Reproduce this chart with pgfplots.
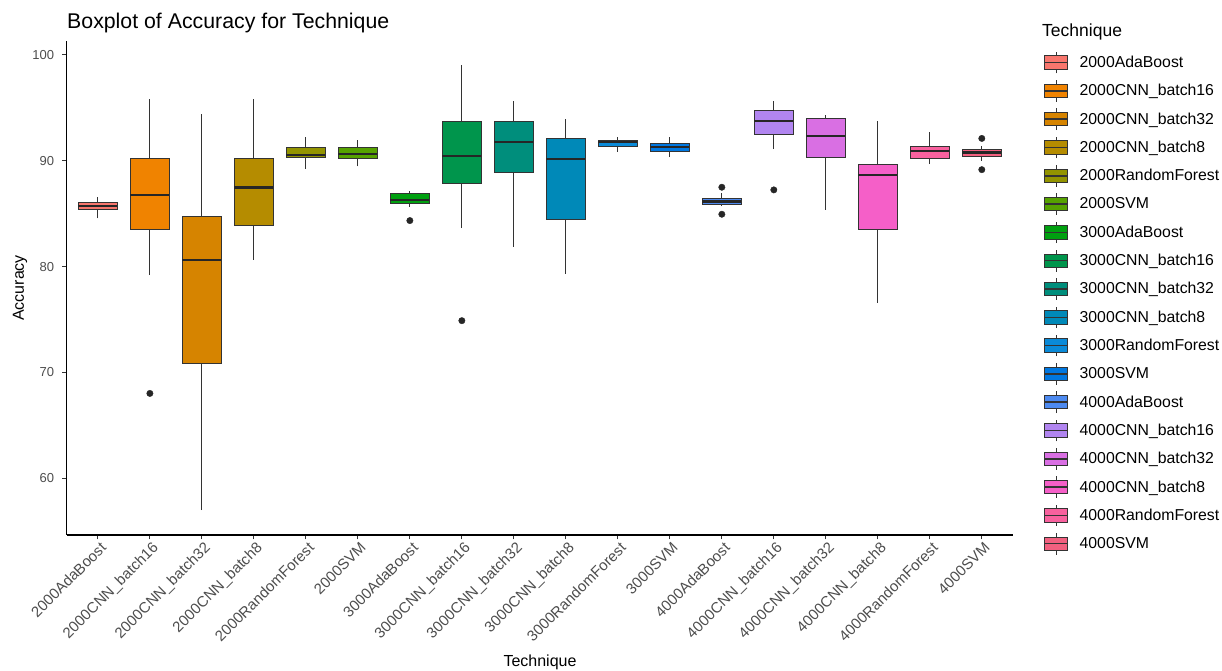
\documentclass[border=0pt]{standalone}
\usepackage{fontspec}
\setmainfont{Liberation Sans}
\usepackage{pgfplots}
\pgfplotsset{compat=1.18}
\definecolor{c1}{HTML}{F8766D}
\definecolor{c2}{HTML}{F08300}
\definecolor{c3}{HTML}{D68400}
\definecolor{c4}{HTML}{B58C00}
\definecolor{c5}{HTML}{939400}
\definecolor{c6}{HTML}{56A200}
\definecolor{c7}{HTML}{00A010}
\definecolor{c8}{HTML}{00954C}
\definecolor{c9}{HTML}{008E7C}
\definecolor{c10}{HTML}{0089B8}
\definecolor{c11}{HTML}{0A8AD8}
\definecolor{c12}{HTML}{0077E0}
\definecolor{c13}{HTML}{4D8AF0}
\definecolor{c14}{HTML}{B185F0}
\definecolor{c15}{HTML}{D96FE3}
\definecolor{c16}{HTML}{F55FC8}
\definecolor{c17}{HTML}{F8619E}
\definecolor{c18}{HTML}{F2607F}
\definecolor{tickgray}{HTML}{4D4D4D}
\definecolor{linegray}{HTML}{333333}
\newcommand\boxkey[1]{%
  \draw[linegray, line width=1pt] (11.5pt,-10.8pt) -- (11.5pt,10.8pt);
  \draw[fill=#1, draw=linegray, line width=1pt] (0pt,-6.7pt) rectangle (23pt,6.7pt);
  \draw[linegray, line width=1.5pt] (0pt,0pt) -- (23pt,0pt);
}
% #1 position, #2 left edge, #3 right edge, #4 colour, #5 lower whisker, #6 lower quartile, #7 median, #8 upper quartile, #9 upper whisker
\newcommand\bxp[9]{%
  \addplot[forget plot, linegray, line width=1.2pt] coordinates {(#1,#5) (#1,#6)};
  \addplot[forget plot, linegray, line width=1.2pt] coordinates {(#1,#8) (#1,#9)};
  \addplot[forget plot, fill=#4, draw=linegray, line width=1.1pt] coordinates {(#2,#6) (#3,#6) (#3,#8) (#2,#8)} -- cycle;
  \addplot[forget plot, black!85, line width=2.3pt] coordinates {(#2,#7) (#3,#7)};
}
\begin{document}
\begin{tikzpicture}
\useasboundingbox (0,0) rectangle (1222pt,671pt);
\begin{axis}[
  at={(66.7pt,136pt)}, anchor=south west,
  scale only axis, width=946.3pt, height=494pt,
  xmin=-0.6, xmax=17.6, ymin=54.65, ymax=101.3,
  axis x line*=bottom, axis y line*=left,
  axis line style={black, line width=1.2pt},
  tick align=outside, major tick length=4.5pt,
  tick style={linegray, line width=1pt},
  xtick={0,...,17},
  xticklabels={2000AdaBoost,2000CNN\_batch16,2000CNN\_batch32,2000CNN\_batch8,2000RandomForest,2000SVM,3000AdaBoost,3000CNN\_batch16,3000CNN\_batch32,3000CNN\_batch8,3000RandomForest,3000SVM,4000AdaBoost,4000CNN\_batch16,4000CNN\_batch32,4000CNN\_batch8,4000RandomForest,4000SVM},
  xticklabel style={rotate=45, anchor=north east, inner sep=1pt, yshift=-1pt, xshift=1pt, text=tickgray, font=\fontsize{15}{17}\selectfont},
  ytick={60,70,80,90,100},
  yticklabel style={text=tickgray, inner sep=2pt, xshift=-6pt, font=\fontsize{13}{15}\selectfont},
  /pgf/number format/assume math mode=true,
  legend style={at={(axis description cs:1.0327,0.9795)}, anchor=north west,
    draw=none, fill=none, inner sep=0pt, row sep=5.7pt, column sep=11pt,
    nodes={inner sep=0pt, anchor=west},
    font=\fontsize{15.8}{18}\selectfont},
  legend cell align=left,
]
\bxp{0}{-0.375}{0.375}{c1}{84.56}{85.38}{85.73}{86.07}{86.6}
\bxp{1}{0.625}{1.375}{c2}{79.2}{83.52}{86.77}{90.2}{95.81}
\bxp{2}{1.625}{2.375}{c3}{57.0}{70.86}{80.6}{84.69}{94.39}
\bxp{3}{2.625}{3.375}{c4}{80.62}{83.9}{87.46}{90.2}{95.81}
\bxp{4}{3.625}{4.375}{c5}{89.22}{90.33}{90.52}{91.21}{92.19}
\bxp{5}{4.625}{5.375}{c6}{89.45}{90.17}{90.64}{91.21}{91.97}
\bxp{6}{5.625}{6.375}{c7}{85.66}{85.98}{86.3}{86.93}{87.15}
\bxp{7}{6.625}{7.375}{c8}{83.62}{87.81}{90.45}{93.67}{99.05}
\bxp{8}{7.625}{8.375}{c9}{81.88}{88.88}{91.75}{93.67}{95.68}
\bxp{9}{8.625}{9.375}{c10}{79.3}{84.44}{90.14}{92.12}{93.92}
\bxp{10}{9.625}{10.375}{c11}{90.83}{91.34}{91.78}{91.9}{92.19}
\bxp{11}{10.625}{11.375}{c12}{90.33}{90.83}{91.27}{91.59}{92.28}
\bxp{12}{11.625}{12.375}{c13}{85.7}{85.82}{86.14}{86.45}{86.93}
\bxp{13}{12.625}{13.375}{c14}{91.08}{92.5}{93.76}{94.74}{95.59}
\bxp{14}{13.625}{14.375}{c15}{85.35}{90.3}{92.31}{94.01}{94.27}
\bxp{15}{14.625}{15.375}{c16}{76.6}{83.52}{88.63}{89.6}{93.7}
\bxp{16}{15.625}{16.375}{c17}{89.67}{90.17}{90.93}{91.34}{92.66}
\bxp{17}{16.625}{17.375}{c18}{90.0}{90.4}{90.78}{91.02}{91.4}
% outliers
\addplot[forget plot, only marks, mark=*, mark size=3.2pt, black!85] coordinates {
  (1,68.02) (6,84.34) (7,74.89) (12,87.49) (12,84.94) (13,87.24) (17,92.1) (17,89.15)};
% legend
\addlegendimage{legend image code/.code={\boxkey{c1}}}\addlegendentry{2000AdaBoost}
\addlegendimage{legend image code/.code={\boxkey{c2}}}\addlegendentry{2000CNN\_batch16}
\addlegendimage{legend image code/.code={\boxkey{c3}}}\addlegendentry{2000CNN\_batch32}
\addlegendimage{legend image code/.code={\boxkey{c4}}}\addlegendentry{2000CNN\_batch8}
\addlegendimage{legend image code/.code={\boxkey{c5}}}\addlegendentry{2000RandomForest}
\addlegendimage{legend image code/.code={\boxkey{c6}}}\addlegendentry{2000SVM}
\addlegendimage{legend image code/.code={\boxkey{c7}}}\addlegendentry{3000AdaBoost}
\addlegendimage{legend image code/.code={\boxkey{c8}}}\addlegendentry{3000CNN\_batch16}
\addlegendimage{legend image code/.code={\boxkey{c9}}}\addlegendentry{3000CNN\_batch32}
\addlegendimage{legend image code/.code={\boxkey{c10}}}\addlegendentry{3000CNN\_batch8}
\addlegendimage{legend image code/.code={\boxkey{c11}}}\addlegendentry{3000RandomForest}
\addlegendimage{legend image code/.code={\boxkey{c12}}}\addlegendentry{3000SVM}
\addlegendimage{legend image code/.code={\boxkey{c13}}}\addlegendentry{4000AdaBoost}
\addlegendimage{legend image code/.code={\boxkey{c14}}}\addlegendentry{4000CNN\_batch16}
\addlegendimage{legend image code/.code={\boxkey{c15}}}\addlegendentry{4000CNN\_batch32}
\addlegendimage{legend image code/.code={\boxkey{c16}}}\addlegendentry{4000CNN\_batch8}
\addlegendimage{legend image code/.code={\boxkey{c17}}}\addlegendentry{4000RandomForest}
\addlegendimage{legend image code/.code={\boxkey{c18}}}\addlegendentry{4000SVM}
\end{axis}
\node[anchor=base west, inner sep=0pt, font=\fontsize{21.3}{25}\selectfont] at (67pt,642pt) {Boxplot of Accuracy for Technique};
\node[anchor=base west, inner sep=0pt, font=\fontsize{17.5}{20}\selectfont] at (1042pt,634.3pt) {Technique};
\node[rotate=90, font=\fontsize{16}{19}\selectfont] at (20pt,383pt) {Accuracy};
\node[anchor=base, font=\fontsize{16}{19}\selectfont] at (540pt,4pt) {Technique};
\end{tikzpicture}
\end{document}
